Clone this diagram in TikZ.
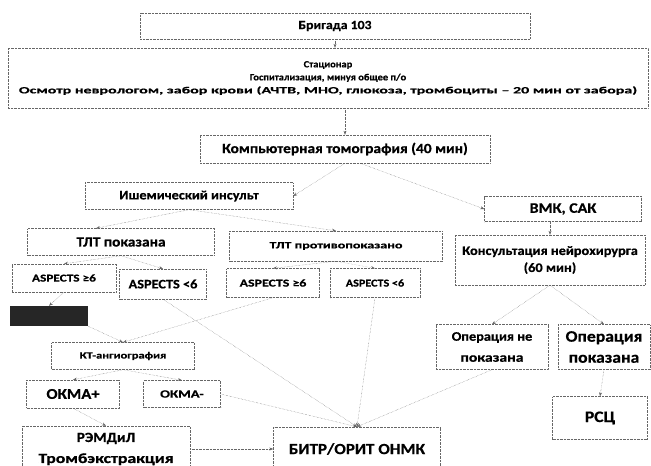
\documentclass[tikz,border=0pt]{standalone}
\usepackage{fontspec}
\setmainfont{Carlito}[FakeStretch=1.1,FakeBold=0.6]
\usetikzlibrary{arrows.meta}
\definecolor{linegray}{rgb}{0.4,0.4,0.4}
\definecolor{smudge}{rgb}{0.15,0.15,0.15}
\newcommand{\fsz}[2]{\bfseries\fontsize{#1}{#2}\selectfont}
\newcommand{\xs}[2]{\scalebox{#1}[1]{#2}}

\begin{document}
\begin{tikzpicture}[x=1pt,y=-1pt]
\useasboundingbox (0,0) rectangle (651,466);
\clip (0,0) rectangle (651,466);
\begin{scope}[every node/.style={draw=linegray,densely dotted,align=center,inner sep=1pt}]
    \node[minimum width=390,minimum height=26,font=\fsz{12.5}{14}] (brig) at (335,26) {Бригада 103};
    \node[minimum width=640,minimum height=60,font=\fsz{9.5}{13}] (stat) at (328,78)
        {Стационар\\Госпитализация, минуя общее п/о\\\xs{1.53}{Осмотр неврологом, забор крови (АЧТВ, МНО, глюкоза, тромбоциты – 20 мин от забора)}};
    \node[minimum width=290,minimum height=28,font=\fsz{14}{16}] (kt) at (345,149) {Компьютерная томография (40 мин)};
    \node[minimum width=208,minimum height=27,font=\fsz{13}{15}] (isch) at (189,196) {Ишемический инсульт};
    \node[minimum width=157,minimum height=25,font=\fsz{14.5}{16}] (vmk) at (563,209) {ВМК, САК};
    \node[minimum width=187,minimum height=27,font=\fsz{14}{16}] (tltyes) at (121,242) {ТЛТ показана};
    \node[minimum width=213,minimum height=30,font=\fsz{9.5}{11}] (tltno) at (336,246) {\xs{1.35}{ТЛТ противопоказано}};
    \node[minimum width=190,minimum height=50,font=\fsz{13}{17}] (kons) at (550,260) {Консультация нейрохирурга\\(60 мин)};
    \node[minimum width=104,minimum height=28,font=\fsz{10.5}{12}] (aspa) at (64,278) {\xs{1.15}{ASPECTS ≥6}};
    \node[minimum width=87,minimum height=30,font=\fsz{13}{15}] (aspb) at (163,284) {ASPECTS <6};
    \node[minimum width=93,minimum height=29,font=\fsz{10.5}{12}] (aspc) at (273,283) {\xs{1.2}{ASPECTS ≥6}};
    \node[minimum width=90,minimum height=29,font=\fsz{10.5}{12}] (aspd) at (375,283) {\xs{1.05}{ASPECTS <6}};
    \node[minimum width=143,minimum height=27,font=\fsz{9.5}{11}] (kta) at (123,356) {\xs{1.2}{КТ-ангиография}};
    \node[minimum width=93,minimum height=28,font=\fsz{15}{17}] (okmplus) at (73,394) {ОКМА+};
    \node[minimum width=77,minimum height=27,font=\fsz{11}{13}] (okmminus) at (182,394) {\xs{1.2}{ОКМА-}};
    \node[minimum width=168,minimum height=46,font=\fsz{14}{21}] (remd) at (106,449) {РЭМДиЛ\\\xs{1.15}{Тромбэкстракция}};
    \node[minimum width=167,minimum height=44,font=\fsz{15.5}{17}] (bitr) at (357,449) {БИТР/ОРИТ ОНМК};
    \node[minimum width=112,minimum height=45,font=\fsz{13}{21}] (opno) at (492,347) {Операция не\\\xs{1.1}{показана}};
    \node[minimum width=92,minimum height=45,font=\fsz{16}{21}] (opyes) at (604,347) {Операция\\показана};
    \node[minimum width=95,minimum height=43,font=\fsz{16}{18}] (rsc) at (600,418) {РСЦ};
\end{scope}
\begin{scope}[every node/.style={draw=none,fill=smudge,inner sep=0pt}]
    \node[minimum width=78,minimum height=20] (smear) at (49,316) {};
\end{scope}

\begin{scope}[>={Stealth[length=4pt,width=3pt]},
              every edge/.style={draw=linegray,densely dotted}]
    \path [->] (brig.south) edge (brig.south |- stat.north);
    \path [->] (stat.south -| kt.north) edge (kt.north);
    \path [->] (kt.south) edge (isch.east);
    \path [->] ([xshift=15pt]kt.south) edge (vmk.west);
    \path [->] (isch.south) edge ([xshift=-25pt]tltyes.north);
    \path [->] (isch.south) edge (tltno.north);
    \path [->] (vmk.south -| kons.north) edge (kons.north);
    \path [->] (tltyes.south) edge (aspa.north);
    \path [->] (tltyes.south) edge (aspb.north);
    \path [->] (tltno.south) edge (aspc.north);
    \path [->] (tltno.south) edge (aspd.north);
    \path [->] (aspa.south) edge (smear.north);
    \path [->] (smear.south east) edge (kta.north);
    \path [->] (aspc.south) edge (kta.north);
    \path [->] (kta.south) edge (okmplus.north);
    \path [->] (kta.south) edge (okmminus.north);
    \path [->] (okmplus.south) edge (remd.north);
    \path [->] (remd.east) edge (bitr.west);
    \path [->] (aspb.south) edge (bitr.north);
    \path [->] (aspd.south) edge (bitr.north);
    \path [->] (okmminus.east) edge (bitr.north);
    \path [->] (opno.south) edge (bitr.north);
    \path [->] (kons.south) edge (opno.north);
    \path [->] (kons.south) edge (opyes.north);
    \path [->] (opyes.south) edge (rsc.north);
\end{scope}

\end{tikzpicture}
\end{document}
